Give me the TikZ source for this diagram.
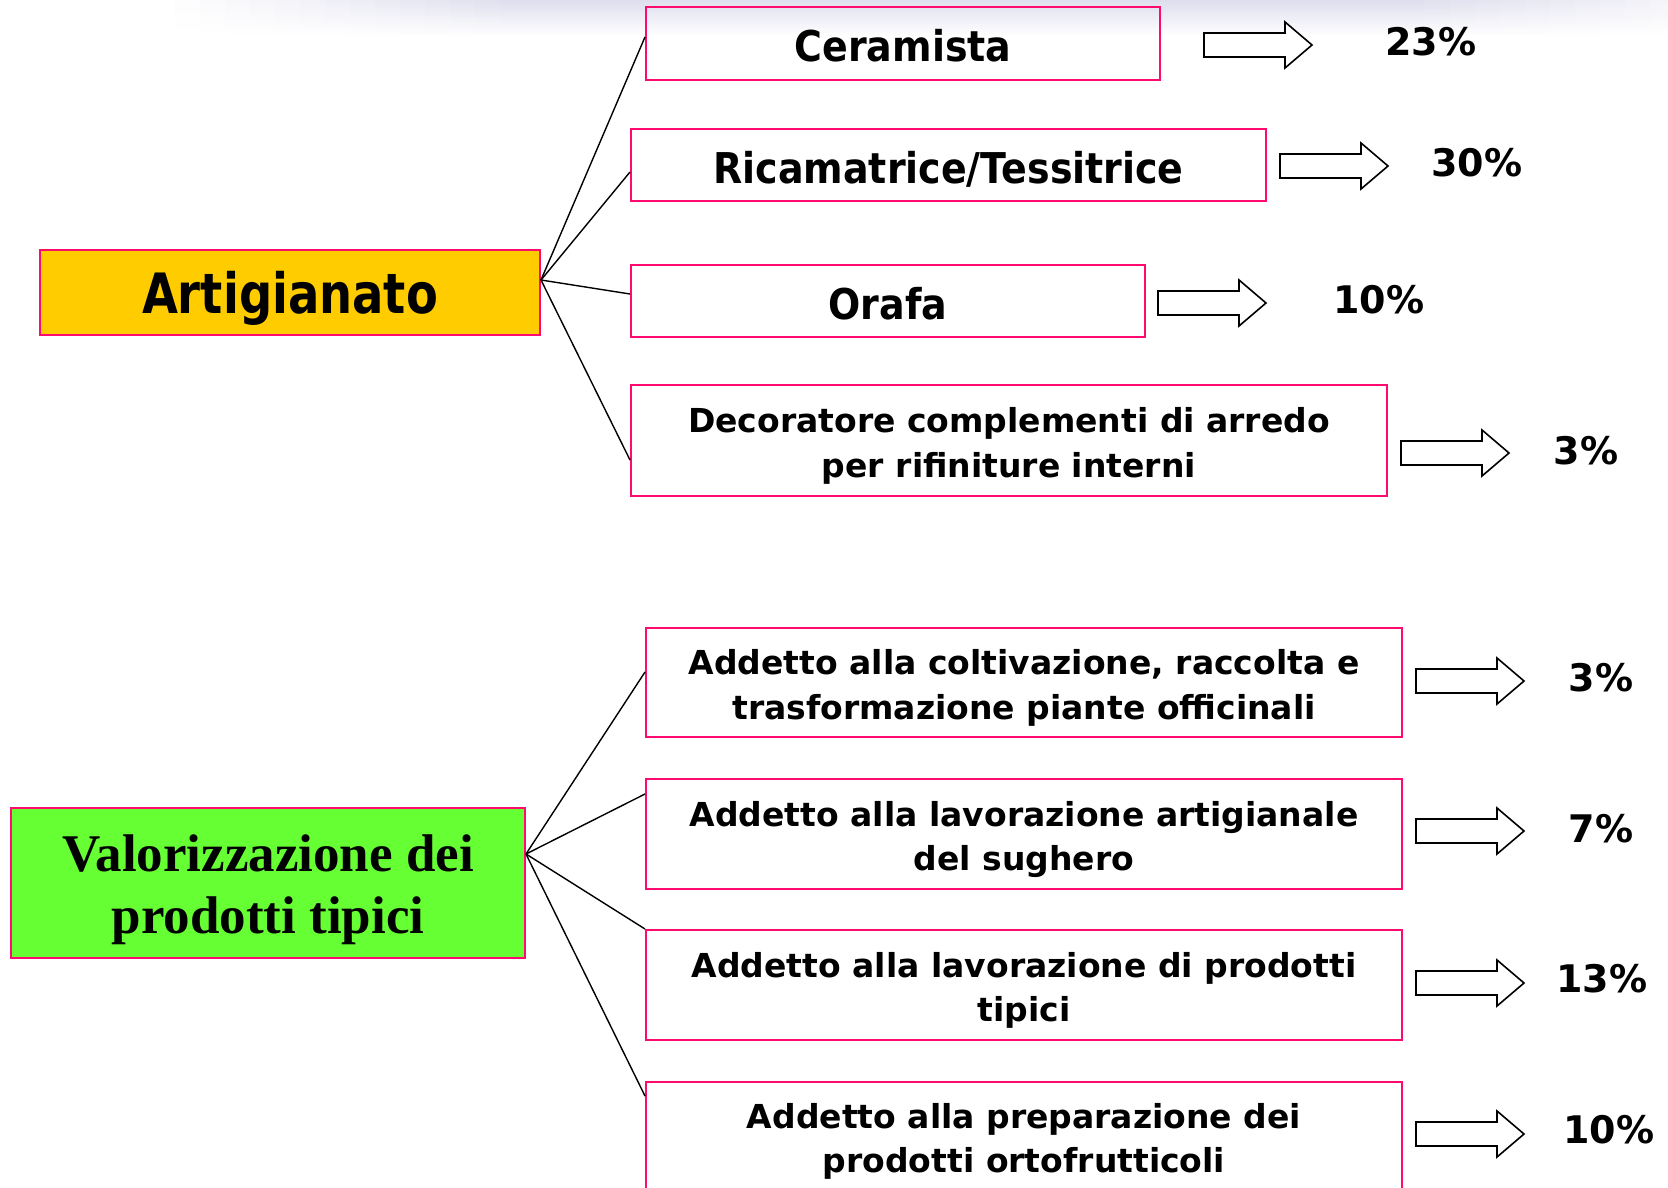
\documentclass[tikz,border=0pt]{standalone}
\usepackage{fontspec}
\setmainfont{DejaVu Sans}
\newfontfamily\serifb{Liberation Serif}
\newfontfamily\tahS[FakeStretch=0.895]{DejaVu Sans}
\newfontfamily\tahA[FakeStretch=0.835]{DejaVu Sans}
\definecolor{pinkb}{RGB}{255,10,110}
\definecolor{artfill}{RGB}{255,204,0}
\definecolor{valfill}{RGB}{102,255,51}
\definecolor{topband}{RGB}{222,222,238}
\newcommand\bigarr[2]{\draw[arr] (#1,#2-12) -- ++(81,0) -- ++(0,-11) -- ++(27,23) -- ++(-27,23) -- ++(0,-11) -- ++(-81,0) -- cycle;}
\begin{document}
\begin{tikzpicture}[x=0.5pt,y=-0.5pt,
  box/.style={draw=pinkb,line width=1pt,inner sep=0pt},
  stxt/.style={inner sep=0pt,anchor=base,font=\fontsize{21.2}{25}\tahS\bfseries},
  mtxt/.style={inner sep=0pt,anchor=base,font=\fontsize{16.5}{22.2}\selectfont\bfseries},
  conn/.style={draw=black,line width=0.7pt},
  pct/.style={font=\fontsize{19}{22.5}\selectfont\bfseries,inner sep=0pt},
  arr/.style={draw=black,line width=0.8pt,fill=white}]
\useasboundingbox (0,0) rectangle (1668,1187);
\clip (0,0) rectangle (1668,1187);
\fill[white] (0,0) rectangle (1668,1187);
% faint band along the top edge
\foreach \x in {150,175,...,1650}{
  \pgfmathsetmacro\k{\x<500 ? (\x-150)/3.5 : (\x>1400 ? 100-(\x-1400)/4 : 100)}
  \shade[top color=topband!\k!white,bottom color=white] (\x,0) rectangle (\x+25.5,36);
}

% top group boxes
\node[box,minimum width=257pt,minimum height=36.5pt] (cer) at (903,43.5) {};
\node[box,minimum width=317.5pt,minimum height=36pt] (ric) at (948.5,165) {};
\node[box,minimum width=257pt,minimum height=36pt] (ora) at (888,301) {};
\node[box,minimum width=378pt,minimum height=55.5pt] (dec) at (1009,440.5) {};
\node[box,fill=artfill,minimum width=250pt,minimum height=42.5pt] (art) at (290,292.5) {};

% bottom group boxes
\node[box,minimum width=378pt,minimum height=54.5pt] (b1) at (1024,682.5) {};
\node[box,minimum width=378pt,minimum height=55pt] (b2) at (1024,834) {};
\node[box,minimum width=378pt,minimum height=55pt] (b3) at (1024,985) {};
\node[box,minimum width=378pt,minimum height=55pt] (b4) at (1024,1137) {};
\node[box,fill=valfill,minimum width=257pt,minimum height=75pt] (val) at (268,883) {};

% texts
\node[stxt] (cerT) at (903,61.7) {Ceramista};
\node[stxt] (ricT) at (948.5,183.2) {Ricamatrice/Tessitrice};
\node[stxt] (oraT) at (888,319.2) {Orafa};
\node[stxt,font=\fontsize{27.8}{32}\tahA\bfseries] (artT) at (290,314) {Artigianato};
\node[mtxt] (decT) at (1009,432.7) {\begin{tabular}[t]{@{}c@{}}Decoratore complementi di arredo\\per rifiniture interni\end{tabular}};
\node[mtxt] (b1T) at (1024,674.7) {\begin{tabular}[t]{@{}c@{}}Addetto alla coltivazione, raccolta e\\trasformazione piante officinali\end{tabular}};
\node[mtxt] (b2T) at (1024,826.3) {\begin{tabular}[t]{@{}c@{}}Addetto alla lavorazione artigianale\\del sughero\end{tabular}};
\node[mtxt] (b3T) at (1024,977.4) {\begin{tabular}[t]{@{}c@{}}Addetto alla lavorazione di prodotti\\tipici\end{tabular}};
\node[mtxt] (b4T) at (1024,1128.4) {\begin{tabular}[t]{@{}c@{}}Addetto alla preparazione dei\\prodotti ortofrutticoli\end{tabular}};
\node[inner sep=0pt,align=center,yshift=-3.2pt,
  font=\fontsize{26.5}{31}\serifb\bfseries] (valT) at (268,883) {Valorizzazione dei\\prodotti tipici};

% connectors
\draw[conn] ([yshift=6.25pt]art.east) -- ([yshift=3.25pt]cer.west);
\draw[conn] ([yshift=6.25pt]art.east) -- ([yshift=-3.5pt]ric.west);
\draw[conn] ([yshift=6.25pt]art.east) -- ([yshift=3.5pt]ora.west);
\draw[conn] ([yshift=6.25pt]art.east) -- ([yshift=-9.75pt]dec.west);
\draw[conn] ([yshift=14.5pt]val.east) -- ([yshift=5.25pt]b1.west);
\draw[conn] ([yshift=14.5pt]val.east) -- ([yshift=20pt]b2.west);
\draw[conn] ([yshift=14.5pt]val.east) -- (b3.north west);
\draw[conn] ([yshift=14.5pt]val.east) -- ([yshift=20.5pt]b4.west);

% block arrows
\bigarr{1204}{45}
\bigarr{1280}{166}
\bigarr{1158}{303}
\bigarr{1401}{453}
\bigarr{1416}{681}
\bigarr{1416}{831}
\bigarr{1416}{983}
\bigarr{1416}{1134}

% percentages
\node[pct] (p1) at (1431,42) {23\%};
\node[pct] (p2) at (1477,163) {30\%};
\node[pct] (p3) at (1379,300) {10\%};
\node[pct] (p4) at (1586,451) {3\%};
\node[pct] (p5) at (1601,678) {3\%};
\node[pct] (p6) at (1601,829) {7\%};
\node[pct] (p7) at (1602,979) {13\%};
\node[pct] (p8) at (1609,1130) {10\%};
\end{tikzpicture}
\end{document}
